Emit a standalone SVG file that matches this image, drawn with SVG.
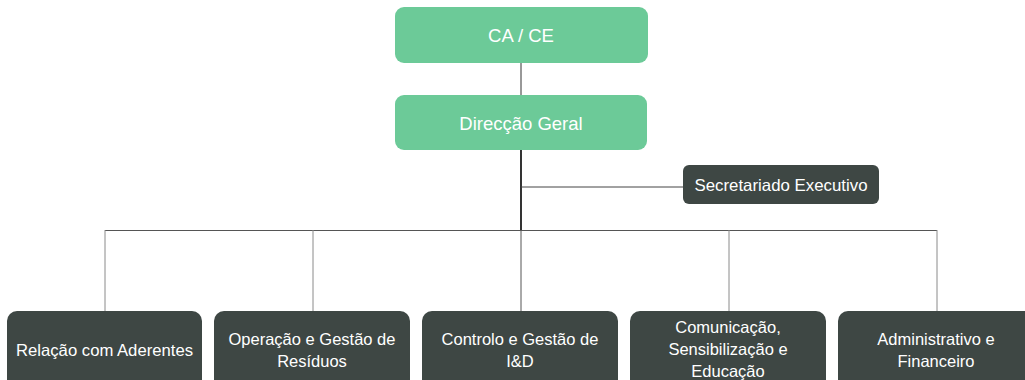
<svg xmlns="http://www.w3.org/2000/svg" width="1025" height="380" viewBox="0 0 1025 380">
<style>
.g{fill:#6CCA98}
.d{fill:#3E4744}
text{font-family:"Liberation Sans","Open Sans",sans-serif;fill:#fff;text-anchor:middle}
.t{font-size:18.5px}
.s{font-size:16.5px}
.c{fill:none;stroke:#8a8a8a;stroke-width:1}
.k{fill:none;stroke:#000;stroke-width:1.6}
</style>
<rect width="1025" height="380" fill="#fff"/>
<g id="connectors">
<line class="c" x1="521" y1="63" x2="521" y2="95" style="stroke:#333"/>
<line class="k" x1="521" y1="150" x2="521" y2="231"/>
<line class="c" x1="521" y1="187" x2="683" y2="187" style="stroke:#444"/>
<line class="c" x1="105" y1="230.5" x2="937" y2="230.5" style="stroke:#555"/>
<line class="c" x1="105" y1="230" x2="105" y2="311"/>
<line class="c" x1="313" y1="230" x2="313" y2="311"/>
<line class="c" x1="521" y1="230" x2="521" y2="311" style="stroke:#555"/>
<line class="c" x1="729" y1="230" x2="729" y2="311"/>
<line class="c" x1="937" y1="230" x2="937" y2="311"/>
</g>
<g id="ca-ce"><rect class="g" x="395" y="7" width="253" height="56" rx="9"/><text class="t" x="521" y="42">CA / CE</text></g>
<g id="direccao-geral"><rect class="g" x="395" y="95" width="252" height="55" rx="9"/><text class="t" x="521" y="130">Direcção Geral</text></g>
<g id="secretariado"><rect class="d" x="683" y="165" width="196" height="39" rx="6"/><text class="s" x="781" y="191" textLength="173" lengthAdjust="spacingAndGlyphs">Secretariado Executivo</text></g>
<g id="relacao"><rect class="d" x="7" y="311" width="195" height="80" rx="10"/><text class="s" x="104.5" y="356" textLength="177" lengthAdjust="spacingAndGlyphs">Relação com Aderentes</text></g>
<g id="operacao"><rect class="d" x="214" y="311" width="196" height="80" rx="10"/><text class="s" x="312" y="345">Operação e Gestão de</text><text class="s" x="312" y="367">Resíduos</text></g>
<g id="controlo"><rect class="d" x="422" y="311" width="196" height="80" rx="10"/><text class="s" x="520" y="345">Controlo e Gestão de</text><text class="s" x="520" y="367">I&amp;D</text></g>
<g id="comunicacao"><rect class="d" x="630" y="311" width="196" height="80" rx="10"/><text class="s" x="728" y="333">Comunicação,</text><text class="s" x="728" y="355">Sensibilização e</text><text class="s" x="728" y="377">Educação</text></g>
<g id="administrativo"><rect class="d" x="838" y="311" width="196" height="80" rx="10"/><text class="s" x="936" y="345">Administrativo e</text><text class="s" x="936" y="367">Financeiro</text></g>
</svg>
